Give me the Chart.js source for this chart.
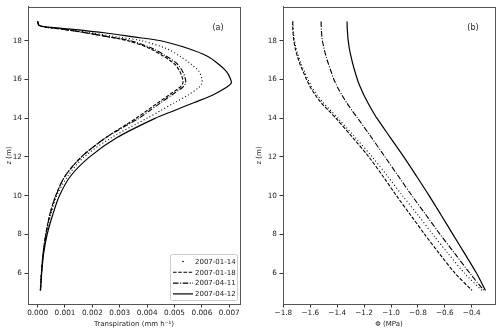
<!DOCTYPE html>
<html lang="en">
<head>
  <meta charset="utf-8">
  <title>Transpiration and water potential profiles</title>
  <script type="text/javascript" src="https://cdn.jsdelivr.net/npm/chart.js"></script>
  <style type="text/css">
    html, body { margin: 0; padding: 0; background: #fff; }
    #wrap { position: relative; width: 500px; height: 331px; }
    #left { position: absolute; left: 0; top: 0; width: 250px; height: 331px; }
    #right { position: absolute; left: 250px; top: 0; width: 250px; height: 331px; }
  </style>
</head>
<body>
  <div id="wrap">
    <div id="left"><canvas id="chartA"></canvas></div>
    <div id="right"><canvas id="chartB"></canvas></div>
  </div>

  <script type="text/javascript">
    // heights (m), shared by all profiles
    const heights = [19.0, 18.8, 18.7, 18.6, 18.4, 18.2, 18.0, 17.6, 17.2, 16.8, 16.4, 16.0, 15.8, 15.6,
      15.2, 14.8, 14.4, 14.0, 13.0, 12.0, 11.0, 10.0, 9.0, 8.0, 7.0, 6.0, 5.1];
    const dates = ['2007-01-14', '2007-01-18', '2007-04-11', '2007-04-12'];

    // (a) transpiration, mm h-1
    const transp0114 = [0.0, 0.00005, 0.0003, 0.0010, 0.0020, 0.0029, 0.0038, 0.0047, 0.0052, 0.0056, 0.0059, 0.0060, 0.0060, 0.0059,
      0.0055, 0.0050, 0.0045, 0.0040, 0.0027, 0.0017, 0.0011, 0.0007, 0.00048, 0.00032, 0.0002, 0.00014, 0.0001];
    const transp0118 = [0.0, 0.00005, 0.0003, 0.0009, 0.0018, 0.0026, 0.0033, 0.0041, 0.0046, 0.0050, 0.0052, 0.0053, 0.0053, 0.0052,
      0.0048, 0.0044, 0.0040, 0.0036, 0.0025, 0.0016, 0.0010, 0.00066, 0.00044, 0.0003, 0.0002, 0.00014, 0.0001];
    const transp0411 = [0.0, 0.00005, 0.0003, 0.0009, 0.0018, 0.0026, 0.0034, 0.0042, 0.0047, 0.0051, 0.0053, 0.0054, 0.0054, 0.0053,
      0.0049, 0.0045, 0.0041, 0.0037, 0.0025, 0.0016, 0.0010, 0.00067, 0.00045, 0.0003, 0.0002, 0.00014, 0.0001];
    const transp0412 = [0.0, 0.00005, 0.0004, 0.0012, 0.0025, 0.0035, 0.0045, 0.0055, 0.0062, 0.0066, 0.0069, 0.00705, 0.00707, 0.0069,
      0.0064, 0.0057, 0.0050, 0.0043, 0.0029, 0.0019, 0.0012, 0.0008, 0.00055, 0.00035, 0.00022, 0.00015, 0.00011];

    // (b) water potential, MPa
    const phi0114 = [-1.728, -1.728, -1.728, -1.727, -1.725, -1.722, -1.717, -1.705, -1.688, -1.668, -1.643, -1.617, -1.603, -1.588,
      -1.55, -1.505, -1.45, -1.395, -1.265, -1.14, -1.025, -0.915, -0.80, -0.69, -0.575, -0.455, -0.325];
    const phi0118 = [-1.731, -1.731, -1.731, -1.73, -1.728, -1.726, -1.722, -1.712, -1.696, -1.677, -1.653, -1.628, -1.614, -1.60,
      -1.563, -1.52, -1.465, -1.41, -1.285, -1.165, -1.06, -0.96, -0.855, -0.75, -0.64, -0.525, -0.398];
    const phi0411 = [-1.52, -1.519, -1.519, -1.518, -1.516, -1.514, -1.51, -1.498, -1.483, -1.465, -1.445, -1.425, -1.412, -1.398,
      -1.365, -1.33, -1.29, -1.248, -1.145, -1.045, -0.945, -0.845, -0.74, -0.635, -0.525, -0.415, -0.31];
    const phi0412 = [-1.327, -1.326, -1.326, -1.325, -1.323, -1.321, -1.318, -1.31, -1.298, -1.284, -1.268, -1.25, -1.24, -1.228,
      -1.202, -1.172, -1.14, -1.105, -1.005, -0.905, -0.81, -0.717, -0.628, -0.54, -0.452, -0.365, -0.298];

    const zTicks = [6, 8, 10, 12, 14, 16, 18];
    const transpTicks = [0, 0.001, 0.002, 0.003, 0.004, 0.005, 0.006, 0.007];
    const phiTicks = [-1.8, -1.6, -1.4, -1.2, -1.0, -0.8, -0.6, -0.4];

    Chart.defaults.font.family = "'DejaVu Sans', sans-serif";
    Chart.defaults.color = '#1a1a1a';

    const lineStyles = [
      { borderDash: [1, 2.4], borderWidth: 1.1, dot: true },
      { borderDash: [3.6, 1.6], borderWidth: 1.1 },
      { borderDash: [5.5, 1.6, 1, 1.6], borderWidth: 1.1 },
      { borderDash: [], borderWidth: 1.2 }
    ];

    // frame, panel letter and legend drawn on top of the plot
    const decor = {
      id: 'decor',
      afterDraw(chart, args, opts) {
        const { ctx, chartArea: a } = chart;
        ctx.save();
        ctx.strokeStyle = '#555';
        ctx.lineWidth = 1;
        ctx.strokeRect(Math.round(a.left) + 0.5, Math.round(a.top) + 0.5, Math.round(a.right - a.left), Math.round(a.bottom - a.top));
        ctx.fillStyle = '#1a1a1a';
        ctx.font = "8px 'DejaVu Sans'";
        ctx.textAlign = 'center';
        ctx.textBaseline = 'middle';
        ctx.fillText(opts.letter, a.right - 22, a.top + 21);
        if (opts.legend) {
          const w = 67, h = 46;
          const x0 = a.right - 3 - w, y0 = a.bottom - 4 - h;
          ctx.beginPath();
          ctx.roundRect(x0 + 0.5, y0 + 0.5, w, h, 2);
          ctx.fillStyle = 'rgba(255,255,255,0.8)';
          ctx.fill();
          ctx.strokeStyle = '#ccc';
          ctx.stroke();
          ctx.font = "7px 'DejaVu Sans'";
          ctx.textAlign = 'left';
          chart.data.datasets.forEach((ds, i) => {
            const y = y0 + 7.5 + i * 10.8;
            ctx.strokeStyle = '#000';
            ctx.fillStyle = '#000';
            if (lineStyles[i].dot) {
              ctx.beginPath();
              ctx.arc(x0 + 13, y, 0.8, 0, Math.PI * 2);
              ctx.fill();
            } else {
              ctx.beginPath();
              ctx.setLineDash(ds.borderDash);
              ctx.lineWidth = ds.borderWidth;
              ctx.moveTo(x0 + 3, y);
              ctx.lineTo(x0 + 23, y);
              ctx.stroke();
              ctx.setLineDash([]);
            }
            ctx.fillStyle = '#1a1a1a';
            ctx.fillText(ds.label, x0 + 25, y + 0.5);
          });
        }
        ctx.restore();
      }
    };

    const makeChart = (id, series, opts) => {
      const datasets = series.map((vals, i) => ({
        label: dates[i],
        data: vals.map((v, k) => ({ x: v, y: heights[k] })),
        showLine: true,
        pointRadius: 0,
        borderColor: '#000',
        borderDash: lineStyles[i].borderDash,
        borderWidth: lineStyles[i].borderWidth,
        tension: 0.3
      }));
      return new Chart(document.getElementById(id), {
        type: 'scatter',
        data: { datasets },
        plugins: [decor],
        options: {
          responsive: false,
          animation: false,
          layout: { padding: { top: 4, right: opts.padRight, left: 0, bottom: 0 } },
          plugins: {
            legend: { display: false },
            tooltip: { enabled: false },
            decor: { letter: opts.letter, legend: opts.legend }
          },
          scales: {
            x: {
              type: 'linear',
              min: opts.xMin,
              max: opts.xMax,
              afterBuildTicks: s => { s.ticks = opts.xTicks.map(value => ({ value })); },
              afterFit: s => { s.height = 27; },
              grid: { drawOnChartArea: false, tickLength: 3.5, tickColor: '#333' },
              border: { color: '#555' },
              ticks: {
                font: { size: 7.3 }, padding: 1, maxRotation: 0, autoSkip: false,
                callback: opts.xFormat
              },
              title: { display: true, text: opts.xTitle, font: { size: 7 }, padding: { top: 0, bottom: 3 } }
            },
            y: {
              type: 'linear',
              min: 4.4,
              max: 19.75,
              afterBuildTicks: s => { s.ticks = zTicks.map(value => ({ value })); },
              afterFit: s => { s.width = opts.yWidth; },
              grid: { drawOnChartArea: false, tickLength: 3.5, tickColor: '#333' },
              border: { color: '#555' },
              ticks: { font: { size: 7.3 }, padding: 2.5 },
              title: { display: true, text: 'z (m)', font: { size: 7 }, padding: { top: 5, bottom: 5 } }
            }
          }
        }
      });
    };

    const setSize = (id, w, h) => { const c = document.getElementById(id); c.width = w; c.height = h; c.style.width = w + 'px'; c.style.height = h + 'px'; };
    setSize('chartA', 250, 331);
    setSize('chartB', 250, 331);

    makeChart('chartA', [transp0114, transp0118, transp0411, transp0412], {
      letter: '(a)', legend: true, padRight: 10, yWidth: 28,
      xMin: -0.00035, xMax: 0.00739, xTicks: transpTicks,
      xFormat: v => v.toFixed(3),
      xTitle: 'Transpiration (mm h\u207B\u00B9)'
    });
    makeChart('chartB', [phi0114, phi0118, phi0411, phi0412], {
      letter: '(b)', legend: false, padRight: 5, yWidth: 33,
      xMin: -1.803, xMax: -0.227, xTicks: phiTicks,
      xFormat: v => v.toFixed(1).replace('-', '\u2212'),
      xTitle: '\u03A6 (MPa)'
    });
  </script>
</body>
</html>
